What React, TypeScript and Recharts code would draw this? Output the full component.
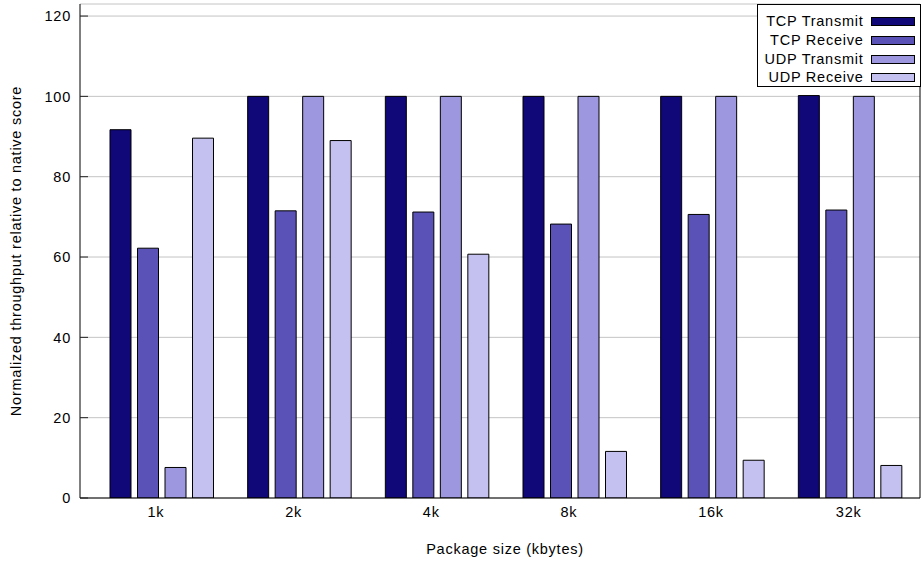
import React from 'react';
import { BarChart, Bar, XAxis, YAxis, CartesianGrid, Legend, Label } from 'recharts';

// Package sizes on the x axis
const sizes = ['1k', '2k', '4k', '8k', '16k', '32k'];

// Normalized throughput (% of native score) per package size
const tcpTransmit = [91.7, 100, 100, 100, 100, 100.2];
const tcpReceive = [62.2, 71.5, 71.2, 68.2, 70.6, 71.7];
const udpTransmit = [7.6, 100, 100, 100, 100, 100];
const udpReceive = [89.6, 89.0, 60.7, 11.6, 9.4, 8.1];

const yTicks = [0, 20, 40, 60, 80, 100, 120];

const seriesKeys = ['tcpTx', 'tcpRx', 'udpTx', 'udpRx'];
const seriesNames = ['TCP Transmit', 'TCP Receive', 'UDP Transmit', 'UDP Receive'];
const seriesColors = ['#100779', '#5a52b6', '#9c97de', '#c4c0f0'];

const data = sizes.map((size, i) => ({
  size,
  tcpTx: tcpTransmit[i],
  tcpRx: tcpReceive[i],
  udpTx: udpTransmit[i],
  udpRx: udpReceive[i],
}));

const FONT = '"Liberation Sans", Arial, Helvetica, sans-serif';
const FONT_SIZE = 14.5;
const SPACING = 0.75;
const textStyle = { fontFamily: FONT, fontSize: FONT_SIZE, letterSpacing: SPACING, fill: '#000' };

const XTick = (props: any) => {
  const { x, y, payload } = props;
  return (
    <text x={x - 14.3} y={y + 18.5} textAnchor="start" style={textStyle}>
      {payload.value}
    </text>
  );
};

const YTick = (props: any) => {
  const { x, y, payload } = props;
  return (
    <g>
      <line x1={x} y1={y} x2={x + 8} y2={y} stroke="#222" strokeWidth={1} />
      <text x={x - 9} y={y} dy="0.36em" textAnchor="end" style={textStyle}>
        {payload.value}
      </text>
    </g>
  );
};

const XTitle = (props: any) => {
  const { viewBox } = props;
  return (
    <text
      x={viewBox.x + viewBox.width / 2 + 5}
      y={viewBox.y + 55.5}
      textAnchor="middle"
      style={textStyle}
    >
      Package size (kbytes)
    </text>
  );
};

const YTitle = (props: any) => {
  const { viewBox } = props;
  const cx = 20.5;
  const cy = viewBox.y + viewBox.height / 2;
  return (
    <text
      x={cx}
      y={cy}
      textAnchor="middle"
      transform={`rotate(-90 ${cx} ${cy})`}
      style={textStyle}
    >
      Normalized throughput relative to native score
    </text>
  );
};

const LegendBox = () => (
  <div
    style={{
      width: 164,
      height: 83,
      border: '1px solid #000',
      background: '#fff',
      boxSizing: 'border-box',
      paddingTop: 7.3,
      fontFamily: FONT,
      fontSize: FONT_SIZE,
      letterSpacing: SPACING,
      color: '#000',
    }}
  >
    {seriesNames.map((name, i) => (
      <div key={name} style={{ height: 18.7, display: 'flex', alignItems: 'center' }}>
        <span style={{ width: 106, textAlign: 'right', lineHeight: '18.7px', whiteSpace: 'nowrap' }}>
          {name}
        </span>
        <span
          style={{
            marginLeft: 7.5,
            width: 43.5,
            height: 9,
            background: seriesColors[i],
            border: '1px solid #000',
            boxSizing: 'border-box',
          }}
        />
      </div>
    ))}
  </div>
);

export default function App() {
  return (
    <div style={{ position: 'absolute', left: 0, top: 0, background: '#fff' }}>
      <BarChart
        width={923}
        height={566}
        data={data}
        margin={{ top: 4, right: 0, bottom: 0, left: 0 }}
        barGap={6.5}
      >
        <CartesianGrid horizontal vertical={false} stroke="#c4c4c4" strokeWidth={1} />
        <XAxis
          dataKey="size"
          height={68}
          padding={{ left: 13, right: 1 }}
          axisLine={{ stroke: '#000', strokeWidth: 1 }}
          tickLine={false}
          tickSize={0}
          tickMargin={0}
          tick={<XTick />}
          interval={0}
        >
          <Label content={<XTitle />} />
        </XAxis>
        <XAxis
          xAxisId="top"
          dataKey="size"
          orientation="top"
          height={0}
          axisLine={{ stroke: '#000', strokeWidth: 1 }}
          tickLine={false}
          tick={false}
        />
        <YAxis
          width={80}
          domain={[0, 123]}
          ticks={yTicks}
          allowDataOverflow
          axisLine={{ stroke: '#000', strokeWidth: 1 }}
          tickLine={false}
          tickSize={0}
          tickMargin={0}
          tick={<YTick />}
          interval={0}
        >
          <Label content={<YTitle />} />
        </YAxis>
        <YAxis
          yAxisId="right"
          orientation="right"
          width={3}
          domain={[0, 123]}
          axisLine={{ stroke: '#000', strokeWidth: 1 }}
          tickLine={false}
          tick={false}
        />
        <Legend
          layout="vertical"
          align="center"
          verticalAlign="middle"
          content={<LegendBox />}
          wrapperStyle={{ left: 756.5, top: 4, width: 164, height: 83 }}
        />
        {seriesKeys.map((key, i) => (
          <Bar
            key={key}
            dataKey={key}
            name={seriesNames[i]}
            fill={seriesColors[i]}
            stroke="#000"
            strokeWidth={1}
            barSize={21}
            isAnimationActive={false}
          />
        ))}
      </BarChart>
    </div>
  );
}
